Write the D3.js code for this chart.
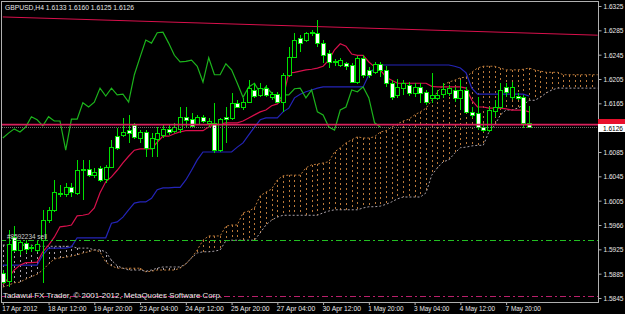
<!DOCTYPE html>
<html>
<head>
<meta charset="utf-8">
<script src="https://cdn.jsdelivr.net/npm/d3@7"></script>
<style>
body { margin: 0; background: #000; overflow: hidden; }
svg { display: block; }
</style>
</head>
<body>
<script>
// GBPUSD H4 candles, 17 Apr - 8 May 2012
var opens = [1.5886,1.5873,1.5945,1.5924,1.5935,1.5929,1.5924,1.5940,1.5973,1.5990,
  1.6018,1.6016,1.6027,1.6018,1.6055,1.6057,1.6047,1.6059,1.6041,1.6060,
  1.6111,1.6113,1.6121,1.6129,1.6108,1.6118,1.6092,1.6106,1.6113,1.6123,
  1.6120,1.6123,1.6143,1.6139,1.6131,1.6143,1.6133,1.6133,1.6088,1.6143,
  1.6141,1.6166,1.6159,1.6167,1.6187,1.6179,1.6190,1.6175,1.6180,1.6167,
  1.6212,1.6241,1.6272,1.6269,1.6281,1.6281,1.6264,1.6248,1.6235,1.6228,
  1.6231,1.6228,1.6200,1.6240,1.6220,1.6217,1.6230,1.6220,1.6198,1.6179,
  1.6190,1.6195,1.6182,1.6192,1.6184,1.6174,1.6174,1.6180,1.6182,1.6187,
  1.6174,1.6187,1.6151,1.6149,1.6126,1.6121,1.6152,1.6159,1.6192,1.6175,
  1.6177,1.6175,1.6133];
var highs = [1.5891,1.5957,1.5963,1.5940,1.5940,1.5932,1.5940,1.5990,1.5995,1.6039,
  1.6031,1.6034,1.6034,1.6072,1.6072,1.6072,1.6059,1.6062,1.6064,1.6105,
  1.6124,1.6141,1.6146,1.6133,1.6121,1.6121,1.6116,1.6126,1.6129,1.6129,
  1.6133,1.6159,1.6159,1.6149,1.6146,1.6146,1.6141,1.6166,1.6141,1.6159,
  1.6182,1.6170,1.6174,1.6203,1.6198,1.6198,1.6195,1.6184,1.6184,1.6215,
  1.6258,1.6281,1.6277,1.6282,1.6286,1.6302,1.6269,1.6253,1.6238,1.6240,
  1.6233,1.6231,1.6243,1.6245,1.6225,1.6233,1.6233,1.6226,1.6203,1.6205,
  1.6203,1.6200,1.6198,1.6198,1.6187,1.6215,1.6187,1.6198,1.6195,1.6192,
  1.6203,1.6192,1.6159,1.6175,1.6133,1.6159,1.6170,1.6198,1.6198,1.6200,
  1.6182,1.6179,1.6160];
var lows = [1.5868,1.5863,1.5921,1.5916,1.5919,1.5921,1.5921,1.5870,1.5968,1.5986,
  1.6011,1.6011,1.6011,1.6014,1.6006,1.6044,1.6042,1.6036,1.6034,1.6059,
  1.6088,1.6110,1.6100,1.6106,1.6100,1.6077,1.6077,1.6077,1.6108,1.6113,
  1.6116,1.6116,1.6126,1.6126,1.6129,1.6133,1.6126,1.6083,1.6085,1.6100,
  1.6138,1.6159,1.6154,1.6166,1.6174,1.6175,1.6175,1.6170,1.6166,1.6151,
  1.6208,1.6240,1.6249,1.6266,1.6276,1.6258,1.6231,1.6223,1.6226,1.6225,
  1.6220,1.6198,1.6197,1.6207,1.6207,1.6213,1.6208,1.6192,1.6170,1.6174,
  1.6179,1.6177,1.6175,1.6166,1.6162,1.6166,1.6170,1.6174,1.6177,1.6167,
  1.6154,1.6149,1.6141,1.6121,1.6118,1.6118,1.6143,1.6157,1.6175,1.6170,
  1.6170,1.6124,1.6125];
var closes = [1.5871,1.5934,1.5924,1.5937,1.5925,1.5927,1.5934,1.5973,1.5990,1.6019,
  1.6017,1.6027,1.6018,1.6055,1.6057,1.6047,1.6052,1.6039,1.6060,1.6093,
  1.6092,1.6118,1.6116,1.6110,1.6118,1.6092,1.6108,1.6116,1.6123,1.6118,
  1.6126,1.6143,1.6138,1.6128,1.6143,1.6136,1.6136,1.6088,1.6139,1.6139,
  1.6166,1.6159,1.6167,1.6190,1.6177,1.6190,1.6179,1.6180,1.6167,1.6212,
  1.6241,1.6269,1.6264,1.6281,1.6282,1.6264,1.6244,1.6233,1.6234,1.6236,
  1.6226,1.6200,1.6240,1.6212,1.6212,1.6230,1.6220,1.6198,1.6175,1.6192,
  1.6198,1.6182,1.6192,1.6182,1.6167,1.6179,1.6179,1.6189,1.6190,1.6174,
  1.6187,1.6151,1.6146,1.6126,1.6121,1.6154,1.6159,1.6187,1.6184,1.6192,
  1.6174,1.6133,1.6126];

// Ichimoku lines, one value per bar
var tenkan = [1.5866,1.5878,1.5891,1.5899,1.5903,1.5903,1.5904,1.5921,1.5932,1.5945,
  1.5962,1.5963,1.5965,1.5980,1.5981,1.5983,1.5993,1.6018,1.6036,1.6044,
  1.6055,1.6067,1.6078,1.6088,1.6090,1.6090,1.6090,1.6101,1.6111,1.6111,
  1.6115,1.6118,1.6120,1.6120,1.6120,1.6120,1.6126,1.6130,1.6131,1.6133,
  1.6133,1.6133,1.6136,1.6141,1.6146,1.6151,1.6154,1.6161,1.6164,1.6174,
  1.6215,1.6216,1.6218,1.6220,1.6221,1.6223,1.6226,1.6236,1.6253,1.6263,
  1.6259,1.6246,1.6244,1.6244,1.6233,1.6225,1.6220,1.6208,1.6203,1.6198,
  1.6198,1.6198,1.6198,1.6198,1.6198,1.6193,1.6192,1.6192,1.6192,1.6192,
  1.6192,1.6190,1.6170,1.6159,1.6159,1.6157,1.6157,1.6157,1.6156,1.6154,
  1.6154,1.6154,1.6151];
var kijun = [1.5899,1.5899,1.5899,1.5899,1.5899,1.5899,1.5899,1.5916,1.5927,1.5927,
  1.5927,1.5927,1.5929,1.5944,1.5944,1.5944,1.5944,1.5944,1.5944,1.5968,
  1.5970,1.5978,1.5990,1.6001,1.6003,1.6003,1.6009,1.6023,1.6026,1.6026,
  1.6027,1.6027,1.6039,1.6055,1.6072,1.6085,1.6085,1.6085,1.6085,1.6085,
  1.6085,1.6093,1.6100,1.6113,1.6126,1.6138,1.6141,1.6141,1.6141,1.6151,
  1.6157,1.6174,1.6180,1.6184,1.6187,1.6190,1.6192,1.6192,1.6192,1.6192,
  1.6192,1.6192,1.6192,1.6192,1.6212,1.6223,1.6228,1.6228,1.6228,1.6228,
  1.6228,1.6228,1.6228,1.6228,1.6228,1.6228,1.6228,1.6228,1.6228,1.6226,
  1.6223,1.6215,1.6190,1.6180,1.6180,1.6180,1.6180,1.6180,1.6180,1.6180,
  1.6180,1.6180,1.6177];
// Senkou spans run 26 bars past the last candle
var spanA = [1.5863,1.5866,1.5870,1.5871,1.5876,1.5880,1.5884,1.5891,1.5901,1.5909,
  1.5911,1.5912,1.5914,1.5916,1.5919,1.5921,1.5924,1.5921,1.5904,1.5898,
  1.5894,1.5894,1.5894,1.5894,1.5894,1.5888,1.5889,1.5891,1.5891,1.5891,
  1.5891,1.5894,1.5901,1.5911,1.5924,1.5940,1.5947,1.5947,1.5947,1.5963,
  1.5965,1.5965,1.5985,1.5988,1.5993,1.6013,1.6019,1.6024,1.6039,1.6046,
  1.6047,1.6047,1.6047,1.6059,1.6064,1.6065,1.6067,1.6069,1.6085,1.6092,
  1.6100,1.6105,1.6110,1.6108,1.6108,1.6110,1.6118,1.6120,1.6126,1.6131,
  1.6136,1.6139,1.6146,1.6151,1.6157,1.6170,1.6184,1.6195,1.6200,1.6203,
  1.6207,1.6208,1.6216,1.6223,1.6226,1.6226,1.6226,1.6223,1.6220,1.6220,
  1.6220,1.6221,1.6223,1.6220,1.6218,1.6216,1.6216,1.6216,1.6212,1.6212,
  1.6212,1.6212,1.6212,1.6212,1.6212];
var spanB = [1.5932,1.5932,1.5932,1.5932,1.5932,1.5932,1.5930,1.5930,1.5930,1.5930,
  1.5930,1.5930,1.5930,1.5927,1.5927,1.5927,1.5924,1.5924,1.5921,1.5907,
  1.5898,1.5894,1.5891,1.5891,1.5891,1.5889,1.5891,1.5894,1.5896,1.5896,
  1.5896,1.5896,1.5901,1.5911,1.5919,1.5921,1.5921,1.5922,1.5924,1.5939,
  1.5940,1.5940,1.5940,1.5940,1.5940,1.5952,1.5965,1.5973,1.5978,1.5981,
  1.5981,1.5981,1.5981,1.5981,1.5981,1.5981,1.5985,1.5988,1.5990,1.5990,
  1.5990,1.5990,1.5990,1.5993,1.5995,1.5995,1.5996,1.5999,1.6003,1.6008,
  1.6011,1.6011,1.6011,1.6011,1.6018,1.6047,1.6059,1.6069,1.6072,1.6083,
  1.6092,1.6093,1.6095,1.6096,1.6096,1.6118,1.6129,1.6146,1.6154,1.6154,
  1.6157,1.6162,1.6170,1.6170,1.6175,1.6182,1.6187,1.6190,1.6190,1.6190,
  1.6190,1.6190,1.6190,1.6190,1.6190];
var chikouShift = 26;

// horizontal objects and the trend line
var levelLine = 1.6130;
var bidPrice = 1.6126;
var orderLine = 1.5940;
var stopLine = 1.5848;
var trendLine = [{ bar: 0, price: 1.6307 }, { bar: 104, price: 1.6277 }];

var priceTicks = [1.6325,1.6285,1.6245,1.6205,1.6165,1.6085,1.6045,1.6005,1.5965,1.5925,1.5885,1.5845];
var priceLabels = ['1.6325','1.6285','1.6245','1.6205','1.6165','1.6085','1.6045','1.6005','1.5966','1.5925','1.5885','1.5845'];
var timeTicks = [0,8,16,24,32,40,48,56,64,72,80,88];
var timeLabels = ['17 Apr 2012','18 Apr 12:00','19 Apr 20:00','23 Apr 04:00','24 Apr 12:00','25 Apr 20:00',
  '27 Apr 04:00','30 Apr 12:00','1 May 20:00','3 May 04:00','4 May 12:00','7 May 20:00'];

var chart = {
    width: 625,
    height: 314,
    left: 1.5,
    top: 1.5,
    right: 598.5,
    bottom: 302,
    font: '"Liberation Sans", Arial, sans-serif',
    text: '#e8e8e8',
    frame: '#b0b0b0',
    candle: '#00e000',
    tenkan: '#d8104c',
    kijun: '#2424b8',
    chikou: '#1cb41c',
    sandy: '#b8783a',
    thistle: '#a8a0a8'
};

window.onload = function() {
    drawChart();
};

function drawChart() {
    var svg = d3.select('body').append('svg')
        .attr('width', chart.width)
        .attr('height', chart.height)
        .style('background', '#000');

    var x = d3.scaleLinear().domain([0, closes.length - 1]).range([2.8, 529]);
    var y = d3.scaleLinear().domain([1.5845, 1.6325]).range([298, 6]);
    var px = function(i) { return Math.round(x(i)) + 0.5; };

    svg.append('clipPath').attr('id', 'plot')
        .append('rect')
        .attr('x', 2).attr('y', 2)
        .attr('width', 596).attr('height', 300);

    var g = svg.append('g').attr('clip-path', 'url(#plot)');

    // cloud hatch
    var cloud = d3.range(spanA.length).map(function(i) { return { i: i, a: spanA[i], b: spanB[i] }; });
    g.selectAll('line.hatch').data(cloud).enter().append('line')
        .attr('class', 'hatch')
        .attr('x1', function(d) { return px(d.i); })
        .attr('x2', function(d) { return px(d.i); })
        .attr('y1', function(d) { return y(d.a); })
        .attr('y2', function(d) { return y(d.b); })
        .style('stroke', function(d) { return d.a >= d.b ? chart.sandy : chart.thistle; })
        .style('stroke-width', 1)
        .style('stroke-dasharray', '2,3')
        .style('shape-rendering', 'crispEdges');

    var line = d3.line()
        .x(function(d, i) { return x(i); })
        .y(function(d) { return y(d); });

    g.append('path').attr('d', line(spanA))
        .style('fill', 'none').style('stroke', chart.sandy)
        .style('stroke-width', 1).style('stroke-dasharray', '2,2');
    g.append('path').attr('d', line(spanB))
        .style('fill', 'none').style('stroke', chart.thistle)
        .style('stroke-width', 1).style('stroke-dasharray', '2,2');

    g.append('path').attr('d', line(kijun))
        .style('fill', 'none').style('stroke', chart.kijun).style('stroke-width', 1.2);
    g.append('path').attr('d', line(tenkan))
        .style('fill', 'none').style('stroke', chart.tenkan).style('stroke-width', 1.2);
    g.append('path').attr('d', line(closes.slice(chikouShift)))
        .style('fill', 'none').style('stroke', chart.chikou).style('stroke-width', 1.2);

    // trend line across the top
    g.append('line')
        .attr('x1', x(trendLine[0].bar)).attr('y1', y(trendLine[0].price))
        .attr('x2', x(trendLine[1].bar)).attr('y2', y(trendLine[1].price))
        .style('stroke', chart.tenkan).style('stroke-width', 1);

    // candles
    var bars = d3.range(closes.length).map(function(i) {
        return { i: i, o: opens[i], h: highs[i], l: lows[i], c: closes[i] };
    });
    var candle = g.selectAll('g.bar').data(bars).enter().append('g')
        .style('shape-rendering', 'crispEdges');
    candle.append('line')
        .attr('x1', function(d) { return px(d.i); })
        .attr('x2', function(d) { return px(d.i); })
        .attr('y1', function(d) { return y(d.h); })
        .attr('y2', function(d) { return y(d.l); })
        .style('stroke', chart.candle);
    candle.append('rect')
        .attr('x', function(d) { return px(d.i) - 2; })
        .attr('width', 4)
        .attr('y', function(d) { return Math.round(y(Math.max(d.o, d.c))) + 0.5; })
        .attr('height', function(d) { return Math.max(0, Math.round(Math.abs(y(d.o) - y(d.c)))); })
        .style('fill', function(d) { return d.c >= d.o ? '#000' : '#fff'; })
        .style('stroke', chart.candle);

    // horizontal lines
    g.append('line')
        .attr('x1', 0).attr('x2', 600)
        .attr('y1', y(levelLine)).attr('y2', y(levelLine))
        .style('stroke', '#d8205c').style('stroke-width', 1.6);
    g.append('line')
        .attr('x1', 0).attr('x2', 600)
        .attr('y1', Math.round(y(bidPrice)) + 0.5).attr('y2', Math.round(y(bidPrice)) + 0.5)
        .style('stroke', '#6c6c6c').style('stroke-width', 1).style('stroke-dasharray', '1,1');
    g.append('line')
        .attr('x1', 0).attr('x2', 600)
        .attr('y1', Math.round(y(orderLine)) + 0.5).attr('y2', Math.round(y(orderLine)) + 0.5)
        .style('stroke', '#22c022').style('stroke-width', 1).style('stroke-dasharray', '6,3,2,3');
    g.append('line')
        .attr('x1', 0).attr('x2', 600)
        .attr('y1', Math.round(y(stopLine)) + 0.5).attr('y2', Math.round(y(stopLine)) + 0.5)
        .style('stroke', '#b8206a').style('stroke-width', 1).style('stroke-dasharray', '6,3,2,3');

    // frame
    svg.append('rect')
        .attr('x', chart.left).attr('y', chart.top)
        .attr('width', chart.right - chart.left).attr('height', chart.bottom - chart.top)
        .style('fill', 'none').style('stroke', chart.frame).style('stroke-width', 1)
        .style('shape-rendering', 'crispEdges');

    // price axis
    var yAxis = svg.append('g')
        .attr('transform', 'translate(' + chart.right + ',0)')
        .call(d3.axisRight(y).tickValues(priceTicks)
            .tickFormat(function(d, i) { return priceLabels[i]; })
            .tickSize(3).tickPadding(2));
    yAxis.select('.domain').remove();
    yAxis.selectAll('line').style('stroke', chart.frame);
    yAxis.selectAll('text')
        .style('fill', chart.text).style('font-family', chart.font).style('font-size', '7.5px')
        .attr('textLength', 20).attr('lengthAdjust', 'spacingAndGlyphs');

    // current price labels
    svg.append('rect')
        .attr('x', 598).attr('y', Math.round(y(levelLine)) - 6)
        .attr('width', 27).attr('height', 7)
        .style('fill', '#e8102c');
    svg.append('rect')
        .attr('x', 598).attr('y', Math.round(y(bidPrice)) - 3)
        .attr('width', 27).attr('height', 8)
        .style('fill', '#fff');
    svg.append('text')
        .attr('x', 603).attr('y', Math.round(y(bidPrice)) + 3.5)
        .attr('textLength', 20).attr('lengthAdjust', 'spacingAndGlyphs')
        .style('fill', '#000').style('font-family', chart.font).style('font-size', '7.5px')
        .text(d3.format('.4f')(bidPrice));

    // time axis
    var xAxis = svg.append('g')
        .attr('transform', 'translate(0,' + chart.bottom + ')')
        .call(d3.axisBottom(x).tickValues(timeTicks)
            .tickFormat(function(d, i) { return timeLabels[i]; })
            .tickSize(3).tickPadding(1));
    xAxis.select('.domain').remove();
    xAxis.selectAll('line').style('stroke', chart.frame);
    xAxis.selectAll('text')
        .attr('text-anchor', 'start')
        .attr('dx', -1)
        .attr('textLength', function(d, i) { return timeLabels[i].length * 3.2; })
        .attr('lengthAdjust', 'spacingAndGlyphs')
        .style('fill', chart.text).style('font-family', chart.font).style('font-size', '7.5px');

    // texts on the chart
    svg.append('text')
        .attr('x', 5).attr('y', 9.8)
        .attr('textLength', 129).attr('lengthAdjust', 'spacingAndGlyphs')
        .style('fill', chart.text).style('font-family', chart.font).style('font-size', '8px')
        .text('GBPUSD,H4  ' + [opens[92], highs[92], lows[92], closes[92]].map(d3.format('.4f')).join(' '));
    svg.append('text')
        .attr('x', 7).attr('y', 238.5)
        .attr('textLength', 40).attr('lengthAdjust', 'spacingAndGlyphs')
        .style('fill', '#d0d0d0').style('font-family', chart.font).style('font-size', '7.5px')
        .text('#8592234 sell');
    svg.append('text')
        .attr('x', 3).attr('y', 297.8)
        .attr('textLength', 219).attr('lengthAdjust', 'spacingAndGlyphs')
        .style('fill', chart.text).style('font-family', chart.font).style('font-size', '8px')
        .text('Tadawul FX Trader, \u00a9 2001-2012, MetaQuotes Software Corp.');
}
</script>
</body>
</html>
